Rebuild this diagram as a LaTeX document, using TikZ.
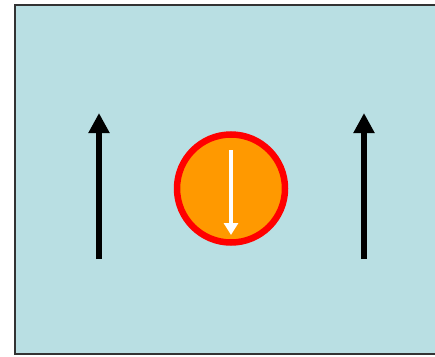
\documentclass[tikz,border=0pt]{standalone}
\usetikzlibrary{arrows.meta}
\definecolor{bgblue}{HTML}{B9DFE3}
\definecolor{frame}{HTML}{333333}
\definecolor{ballorange}{HTML}{FF9900}
\begin{document}
\begin{tikzpicture}[x=1pt,y=-1pt,
  fieldarrow/.style={line width=6.5pt,-{Triangle[length=20pt,width=20pt]}},
  spinarrow/.style={white,line width=4.5pt,-{Triangle[length=12pt,width=14pt]}}]
\useasboundingbox (0,0) rectangle (435,356);
\clip (0,0) rectangle (435,356);
\draw[frame,line width=2pt,fill=bgblue] (15,5) rectangle (445,354);
% left field arrow
\coordinate (l1) at (99,259);
\coordinate (l2) at (99,113);
\draw[fieldarrow] (l1) -- (l2);
% right field arrow
\coordinate (r1) at (364,259);
\coordinate (r2) at (364,113);
\draw[fieldarrow] (r1) -- (r2);
% ball
\node[circle,draw=red,fill=ballorange,line width=6.5pt,minimum size=108pt,inner sep=0pt] (ball) at (231,188.5) {};
\coordinate (s1) at (231,150);
\coordinate (s2) at (231,235);
\draw[spinarrow] (s1) -- (s2);
\end{tikzpicture}
\end{document}
